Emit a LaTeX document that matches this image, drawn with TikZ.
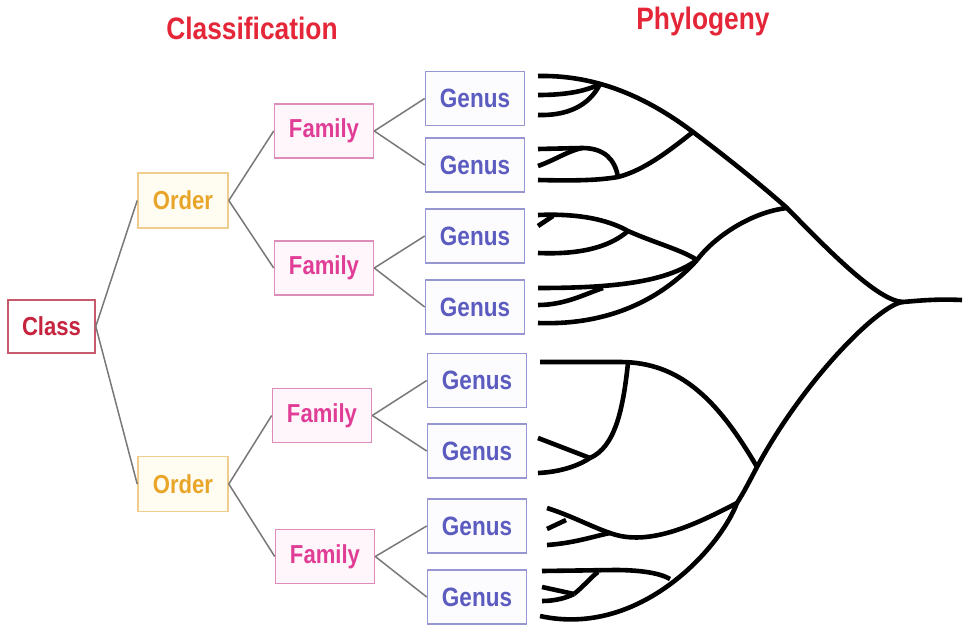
\documentclass[tikz,border=0pt]{standalone}
\usepackage{fontspec}
\setmainfont{Liberation Sans}
\usepackage{graphicx}

\definecolor{titlered}{RGB}{228,38,56}
\definecolor{classtxt}{RGB}{198,36,62}
\definecolor{classline}{RGB}{200,90,110}
\definecolor{ordertxt}{RGB}{232,165,40}
\definecolor{orderline}{RGB}{240,205,140}
\definecolor{orderfill}{RGB}{255,253,242}
\definecolor{familytxt}{RGB}{224,62,150}
\definecolor{familyline}{RGB}{222,140,185}
\definecolor{familyfill}{RGB}{255,246,251}
\definecolor{genustxt}{RGB}{92,92,192}
\definecolor{genusline}{RGB}{150,150,210}
\definecolor{genusfill}{RGB}{252,252,255}
\definecolor{linkgray}{RGB}{120,120,120}

% condensed look for the labels
\newcommand{\narrowtxt}[1]{\scalebox{0.85}[1]{#1}}

\begin{document}
\begin{tikzpicture}[x=1pt,y=-1pt,
  rank/.style={draw, line width=1.6pt, inner sep=0pt,
    font=\bfseries\fontsize{26}{26}\selectfont},
  classbox/.style={rank, draw=classline, fill=white, text=classtxt,
    minimum width=87pt, minimum height=53pt},
  orderbox/.style={rank, draw=orderline, fill=orderfill, text=ordertxt,
    minimum width=90pt, minimum height=55pt},
  familybox/.style={rank, draw=familyline, fill=familyfill, text=familytxt,
    minimum width=99pt, minimum height=54pt},
  genusbox/.style={rank, draw=genusline, fill=genusfill, text=genustxt,
    minimum width=99pt, minimum height=54pt,
    font=\bfseries\fontsize{26.5}{26.5}\selectfont},
  link/.style={draw=linkgray, line width=1.5pt},
  heading/.style={text=titlered, font=\bfseries\fontsize{31}{31}\selectfont},
  tree/.style={line width=4.6pt, line join=round}
]
\useasboundingbox (0,0) rectangle (974,634);

% headings
\node[heading] (hcls) at (252,28) {\narrowtxt{Classification}};
\node[heading] (hphy) at (703,22) {\narrowtxt{Phylogeny}};

% ranks
\node[classbox] (class) at (51.5,326.5) {\narrowtxt{Class}};
\node[orderbox] (o1) at (183,200.5) {\narrowtxt{Order}};
\node[orderbox] (o2) at (183,484) {\narrowtxt{Order}};
\node[familybox] (f1) at (324,131) {\narrowtxt{Family}};
\node[familybox] (f2) at (324,268) {\narrowtxt{Family}};
\node[familybox] (f3) at (322,415.5) {\narrowtxt{Family}};
\node[familybox] (f4) at (325,556.5) {\narrowtxt{Family}};
\node[genusbox] (g1) at (475,98.5) {\narrowtxt{Genus}};
\node[genusbox] (g2) at (475,165) {\narrowtxt{Genus}};
\node[genusbox] (g3) at (475,236) {\narrowtxt{Genus}};
\node[genusbox] (g4) at (475,307) {\narrowtxt{Genus}};
\node[genusbox] (g5) at (477,380.5) {\narrowtxt{Genus}};
\node[genusbox] (g6) at (477,451) {\narrowtxt{Genus}};
\node[genusbox] (g7) at (477,526) {\narrowtxt{Genus}};
\node[genusbox] (g8) at (477,597) {\narrowtxt{Genus}};

% hierarchy links
\draw[link] (class.east) -- (o1.west);
\draw[link] (class.east) -- (o2.west);
\draw[link] (o1.east) -- (f1.west);
\draw[link] (o1.east) -- (f2.west);
\draw[link] (o2.east) -- (f3.west);
\draw[link] (o2.east) -- (f4.west);
\draw[link] (f1.east) -- (g1.west);
\draw[link] (f1.east) -- (g2.west);
\draw[link] (f2.east) -- (g3.west);
\draw[link] (f2.east) -- (g4.west);
\draw[link] (f3.east) -- (g5.west);
\draw[link] (f3.east) -- (g6.west);
\draw[link] (f4.east) -- (g7.west);
\draw[link] (f4.east) -- (g8.west);

% tree junctions
\coordinate (R) at (903,302);
\coordinate (J1) at (693,132);
\coordinate (J2) at (787,208);
\coordinate (J3) at (697,260);
\coordinate (J4) at (757,467);
\coordinate (J5) at (737,503);
\coordinate (JA) at (600,84);
\coordinate (JB) at (618,177);
\coordinate (JC) at (628,231);
\coordinate (JE) at (628,363);
\coordinate (JF) at (590,458);
\coordinate (JG) at (610,533);
\coordinate (JH) at (670,579);
\coordinate (JHb) at (598,572);
\coordinate (JHc) at (574,594);

% root and stem
\draw[tree] (R) .. controls (925,300) and (940,299) .. (962,300);

% upper half
\draw[tree] (538,76) .. controls (590,75) and (640,92) .. (J1)
  .. controls (725,156) and (760,184) .. (J2)
  .. controls (830,252) and (878,301) .. (R);
\draw[tree] (538,95) .. controls (570,95) and (588,90) .. (JA);
\draw[tree] (538,115) .. controls (575,116) and (592,100) .. (JA);

\draw[tree] (538,149) -- (582,148) .. controls (605,148) and (615,160) .. (JB);
\draw[tree] (538,166) .. controls (555,160) and (568,151) .. (582,148);
\draw[tree] (538,180) .. controls (580,181) and (600,180) .. (JB)
  .. controls (645,170) and (670,150) .. (J1);

\draw[tree] (538,215) .. controls (585,213) and (612,222) .. (JC)
  .. controls (655,243) and (682,250) .. (J3);
\draw[tree] (538,226) -- (553,216);
\draw[tree] (538,253) .. controls (585,255) and (612,245) .. (JC);

\draw[tree] (538,288) .. controls (610,288) and (665,283) .. (J3);
\draw[tree] (538,305) .. controls (565,305) and (585,294) .. (603,288);
\draw[tree] (538,323) .. controls (620,326) and (670,290) .. (J3);
\draw[tree] (J3) .. controls (715,236) and (752,212) .. (J2);

% lower half
\draw[tree] (R) .. controls (880,304) and (805,378) .. (J4)
  .. controls (748,484) and (744,492) .. (J5)
  .. controls (720,548) and (640,638) .. (540,616);
\draw[tree] (540,362) -- (620,362) .. controls (680,362) and (718,400) .. (J4);
\draw[tree] (JE) .. controls (623,410) and (615,447) .. (JF);
\draw[tree] (538,438) -- (JF);
\draw[tree] (538,473) .. controls (560,472) and (578,466) .. (JF);

\draw[tree] (547,508) .. controls (572,516) and (592,527) .. (JG)
  .. controls (650,548) and (700,522) .. (J5);
\draw[tree] (547,529) -- (566,520);
\draw[tree] (547,545) .. controls (575,543) and (595,536) .. (JG);

\draw[tree] (542,571) -- (615,570) .. controls (640,570) and (660,573) .. (JH);
\draw[tree] (542,587) -- (JHc);
\draw[tree] (542,601) .. controls (555,601) and (566,598) .. (JHc);
\draw[tree] (JHc) .. controls (584,586) and (591,577) .. (JHb);
\end{tikzpicture}
\end{document}
